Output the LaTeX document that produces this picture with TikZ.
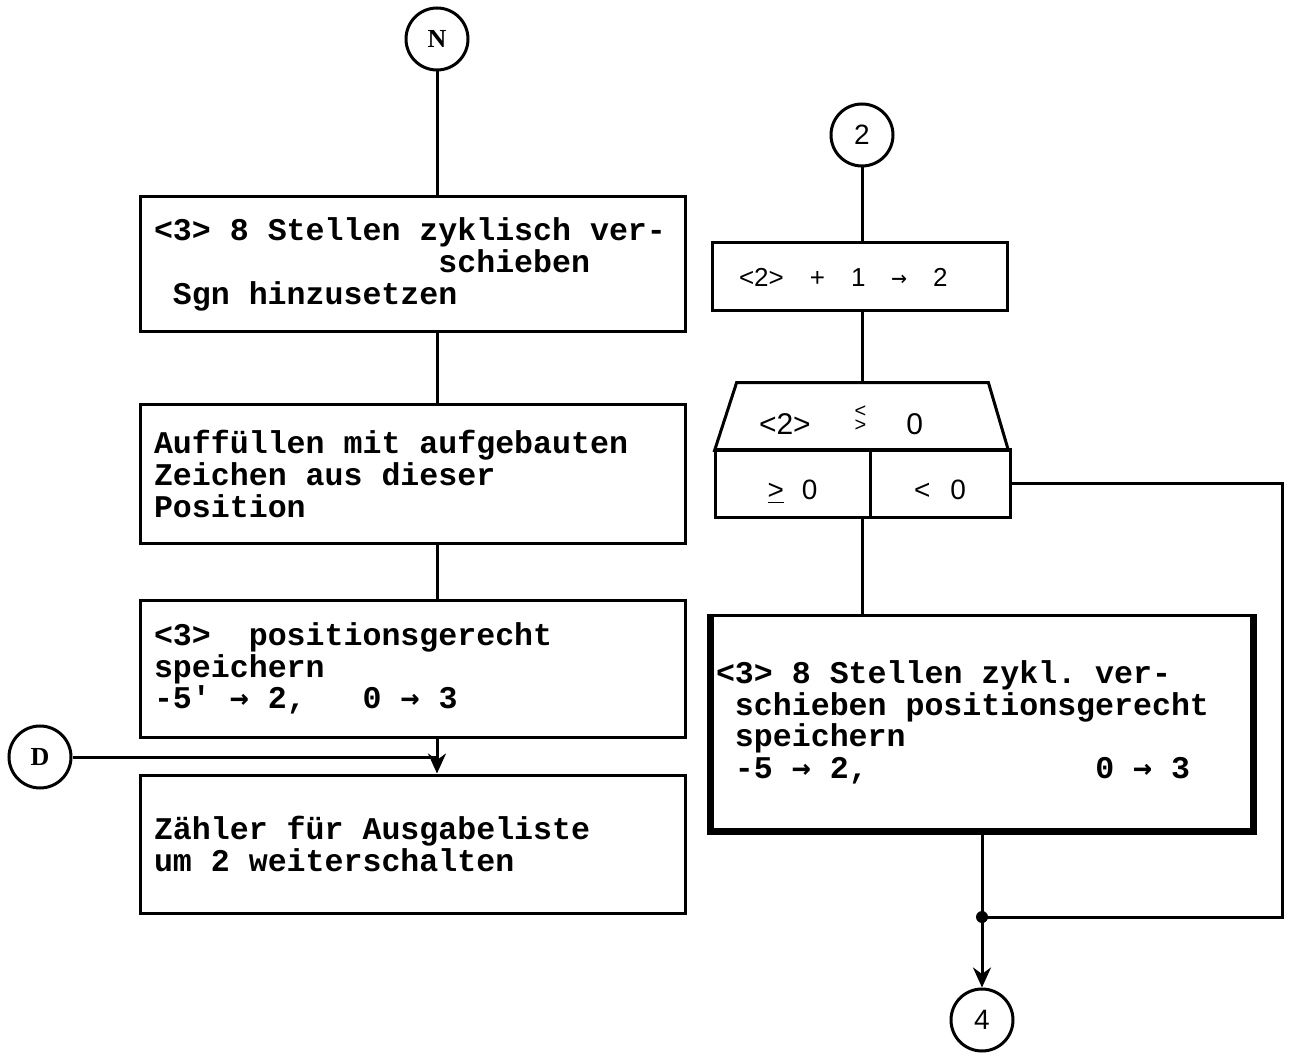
\documentclass[tikz,border=0pt]{standalone}
\usepackage{fontspec}
\setsansfont{Liberation Sans}
\setmonofont{Liberation Mono}
\newfontfamily\pfeilfont{DejaVu Sans Mono}
\newfontfamily\kreisfont{Liberation Serif}
\usetikzlibrary{positioning,arrows.meta,calc}
\newcommand{\pf}{{\pfeilfont →}}
\newcommand{\luecke}[1]{\hspace*{#1\dimexpr 0.6em\relax}}
\newcommand{\schreib}{\ttfamily\bfseries\fontsize{15.8}{15.8}\selectfont}
\newcommand{\weit}{\spaceskip 0.6em\relax\xspaceskip 0.6em\relax}

\begin{document}
\begin{tikzpicture}[x=0.5pt, y=-0.5pt, >={Stealth[length=10pt,width=9pt]},
    kasten/.style={draw, line width=1.5pt, align=left, inner ysep=0pt, font=\schreib, execute at begin node=\weit},
    klein/.style={font=\sffamily\fontsize{13}{15}\selectfont},
    kreis/.style={circle, draw, line width=1.5pt, minimum size=31pt, inner sep=0pt},
    linie/.style={line width=1.5pt}]
  \useasboundingbox (0,0) rectangle (1292,1059);
  % Anschlussstellen
  \node[kreis, font=\kreisfont\bfseries\fontsize{13}{13}\selectfont] (N) at (437,39) {N};
  \node[kreis, font=\kreisfont\bfseries\fontsize{13}{13}\selectfont] (D) at (40,757) {D};
  \node[kreis, font=\sffamily\fontsize{14}{14}\selectfont] (zwei) at (862,135) {2};
  \node[kreis, font=\sffamily\fontsize{14}{14}\selectfont] (vier) at (982,1020) {4};
  % linke Spalte
  \node[kasten, inner xsep=7pt, text width=258.5pt, minimum height=67.5pt] (stellen) at (412.5,264.5)
    {<3> 8 Stellen zyklisch ver-\\ \luecke{15}schieben\\ \luecke{1}Sgn hinzusetzen};
  \node[kasten, inner xsep=7pt, text width=258.5pt, minimum height=69pt] (auffuellen) at (412.5,474)
    {Auffüllen mit aufgebauten\\ Zeichen aus dieser\\ Position};
  \node[kasten, inner xsep=7pt, text width=258.5pt, minimum height=68.5pt] (speichern) at (412.5,668.5)
    {<3>\luecke{2}positionsgerecht\\ speichern\\ -5' \pf{} 2,\luecke{3}0 \pf{} 3};
  \node[kasten, inner xsep=7pt, text width=258.5pt, minimum height=69pt] (zaehler) at (412.5,844)
    {Zähler für Ausgabeliste\\ um 2 weiterschalten};
  % rechte Spalte
  \node[kasten, klein, inner xsep=13.5pt, text width=120.5pt, minimum height=34pt] (erhoehen) at (859.5,277)
    {<2>\quad+\quad1\quad\pf\quad2};
  \node[font=\sffamily\fontsize{15}{17}\selectfont, align=left, inner xsep=22pt, inner ysep=0pt, text width=102.5pt, text height=18.5pt, text depth=0pt, minimum height=33.5pt] (frage) at (861.5,416.5)
    {<2>\hspace{22pt}{\fontsize{10}{10}\selectfont\makebox[0pt][l]{\raisebox{8.5pt}{<}}\raisebox{1.5pt}{>}}\hspace{20pt}0};
  \draw[linie] (frage.south west) -- ($(frage.north west)+(22,0)$) -- ($(frage.north east)+(-20,0)$) -- (frage.south east) -- cycle;
  \node[kasten, font=\sffamily\fontsize{14}{16}\selectfont, align=center, text height=16pt, text depth=0pt, minimum width=77.5pt, minimum height=34pt] (ja) at (792.5,484) {\underline{>}\hspace{9pt}0};
  \node[kasten, font=\sffamily\fontsize{14}{16}\selectfont, align=center, text height=16pt, text depth=0pt, minimum width=70pt, minimum height=34pt] (nein) at (940,484) {<\hspace{10pt}0};
  \node[kasten, inner xsep=2pt, text width=266pt, minimum height=107.5pt] (zykl) at (982,722.5)
    {<3> 8 Stellen zykl. ver-\\ \luecke{1}schieben positionsgerecht\\ \luecke{1}speichern\\ \luecke{1}-5 \pf{} 2,\luecke{12}0 \pf{} 3\\[4pt]};
  \draw[line width=3.5pt] (zykl.north west) -- (zykl.south west) -- (zykl.south east) -- (zykl.north east);
  \coordinate (knoten) at (982,917);
  \coordinate (rand) at (1282,917);
  % Verbindungen
  \draw[linie] (N) -- (N |- stellen.north);
  \draw[linie] (N |- stellen.south) -- (N |- auffuellen.north);
  \draw[linie] (N |- auffuellen.south) -- (N |- speichern.north);
  \draw[linie, ->] (N |- speichern.south) -- (N |- zaehler.north);
  \draw[linie] (D) -- (D -| N);
  \draw[linie] (zwei) -- (zwei |- erhoehen.north);
  \draw[linie] (zwei |- erhoehen.south) -- (zwei |- frage.north);
  \draw[linie] (zwei |- ja.south) -- (zwei |- zykl.north);
  \draw[linie] (nein.east) -| (rand) -- (knoten);
  \draw[linie] (zykl.south) -- (knoten);
  \draw[linie, ->] (knoten) -- (vier);
  \fill (knoten) circle (3pt);
\end{tikzpicture}
\end{document}
